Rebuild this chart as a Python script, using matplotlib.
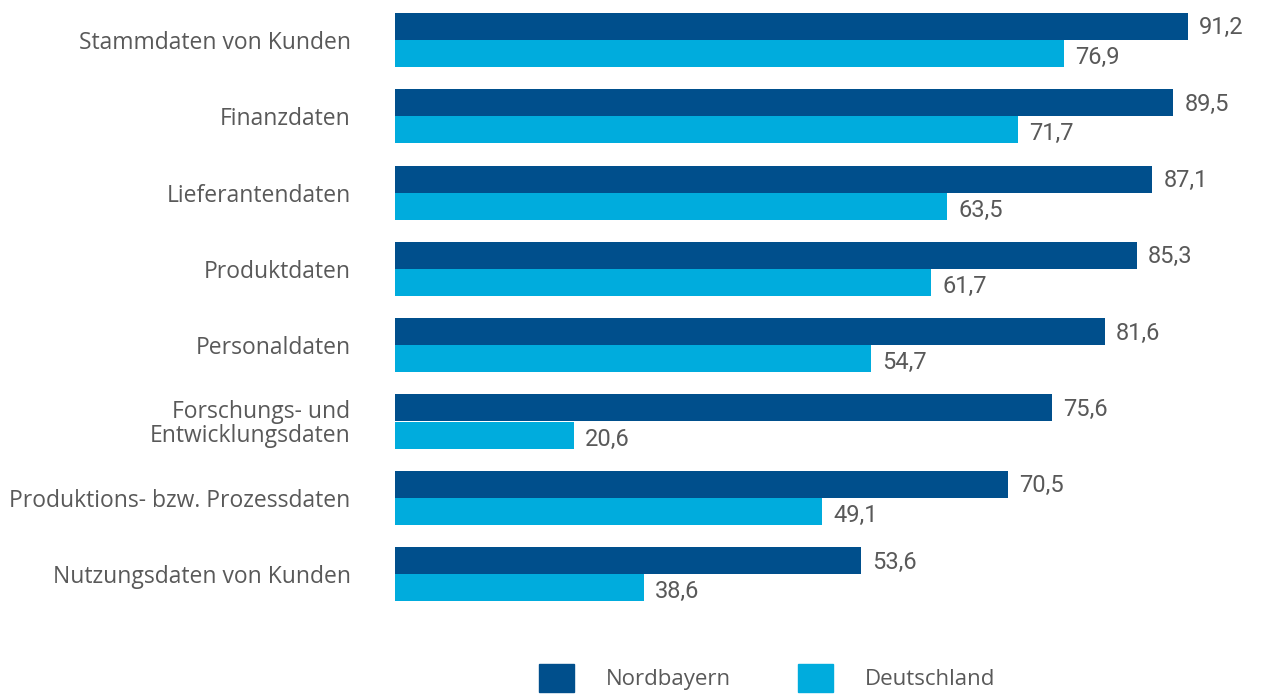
import matplotlib.pyplot as plt
from matplotlib.patches import Patch

W, H = 1262, 699

categories = [
    "Stammdaten von Kunden",
    "Finanzdaten",
    "Lieferantendaten",
    "Produktdaten",
    "Personaldaten",
    "Forschungs- und\nEntwicklungsdaten",
    "Produktions- bzw. Prozessdaten",
    "Nutzungsdaten von Kunden",
]
nordbayern = [91.2, 89.5, 87.1, 85.3, 81.6, 75.6, 70.5, 53.6]
# bar lengths as drawn in the source (last bar is drawn shorter than its label)
deutschland = [76.9, 71.7, 63.5, 61.7, 54.7, 20.6, 49.1, 28.6]
deutschland_labels = ["76,9", "71,7", "63,5", "61,7", "54,7", "20,6", "49,1", "38,6"]
series_names = ["Nordbayern", "Deutschland"]

DARK = "#004f8c"
LIGHT = "#00acdd"
TEXT = "#595959"


def fmt(v):
    return f"{v:.1f}".replace(".", ",")


def main():
    fig = plt.figure(figsize=(W / 100, H / 100), dpi=100)
    # axes: x from pixel 395 to right edge, y from top to pixel 620
    ax = fig.add_axes([395 / W, 1 - 620 / H, 1 - 395 / W, 620 / H])
    ax.set_xlim(0, (W - 395) / 8.695)
    ax.set_ylim((620 - 40) / 76.3, -40 / 76.3)

    h = 27 / 76.3
    pos = list(range(len(categories)))
    ax.barh([p - h / 2 for p in pos], nordbayern, height=h, color=DARK)
    ax.barh([p + h / 2 for p in pos], deutschland, height=h, color=LIGHT)

    for p, a, b, lb in zip(pos, nordbayern, deutschland, deutschland_labels):
        ax.annotate(fmt(a), (a, p - h / 2), xytext=(8, -1), textcoords="offset points",
                    ha="left", va="center", fontsize=17, color=TEXT, family="Roboto")
        ax.annotate(lb, (b, p + h / 2), xytext=(8, -3), textcoords="offset points",
                    ha="left", va="center", fontsize=17, color=TEXT, family="Roboto")

    ax.set_yticks(pos)
    ax.set_yticklabels(categories, fontsize=16.5, color=TEXT, family="Open Sans",
                       linespacing=0.95)
    ax.tick_params(axis="y", length=0, pad=32)
    ax.set_xticks([])
    for s in ax.spines.values():
        s.set_visible(False)

    handles = [Patch(color=DARK), Patch(color=LIGHT)]
    fig.legend(handles, series_names, loc="upper left",
               bbox_to_anchor=(539 / W, 1 - 664 / H), ncol=2, frameon=False,
               prop={"family": "Open Sans", "size": 16}, labelcolor=TEXT,
               handlelength=1.575, handleheight=1.575, handletextpad=1.45,
               columnspacing=3.0, borderpad=0, borderaxespad=0)

    fig.savefig("out.png", dpi=100)


if __name__ == "__main__":
    main()
